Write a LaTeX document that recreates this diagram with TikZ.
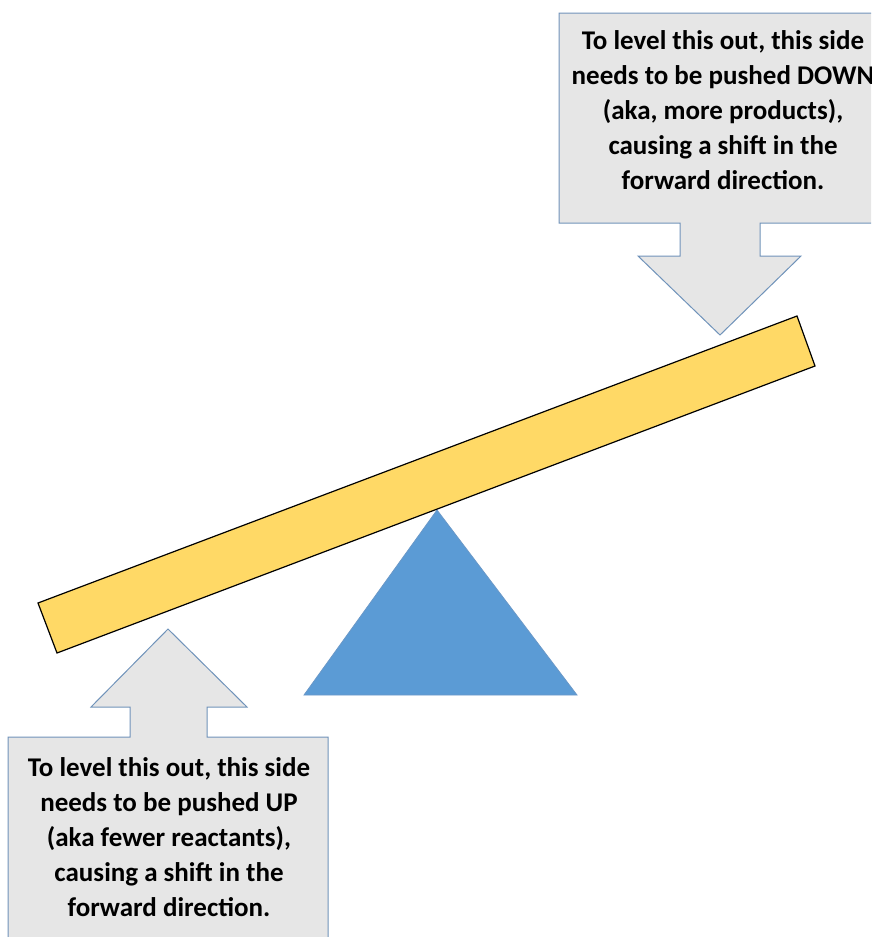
\documentclass[tikz,border=0pt]{standalone}
\usepackage{fontspec}
\setmainfont{Carlito}
\definecolor{boxfill}{HTML}{E6E6E6}
\definecolor{boxline}{HTML}{7093BA}
\definecolor{beamfill}{HTML}{FFD966}
\definecolor{fulcfill}{HTML}{5B9BD5}
\definecolor{fulcline}{HTML}{6A98C8}
\tikzset{
  callout/.style={fill=boxfill,draw=boxline,line width=1pt,line join=miter},
  calltext/.style={inner sep=0pt,align=center,font=\bfseries\fontsize{27}{35}\selectfont},
  beam/.style={fill=beamfill,draw=black,line width=1.2pt,line join=miter},
  fulcrum/.style={fill=fulcfill,draw=fulcline,line width=0.8pt}
}
\begin{document}
\begin{tikzpicture}[x=1pt,y=-1pt]
\useasboundingbox (0,0) rectangle (871,937);
\clip (0,0) rectangle (871,937);
% top callout
\draw[callout] (559,13) -- (895,13) -- (895,223) -- (760,223) -- (760,256) -- (801,256) -- (720,335) -- (638,256) -- (680,256) -- (680,223) -- (559,223) -- cycle;
\node[calltext] (toptext) at (723,110) {To level this out, this side\\needs to be pushed DOWN\\(aka, more products),\\causing a shift in the\\forward direction.};
% bottom callout
\draw[callout] (8,737) -- (130,737) -- (130,707) -- (91,707) -- (168,629) -- (247,707) -- (207,707) -- (207,737) -- (328,737) -- (328,950) -- (8,950) -- cycle;
\node[calltext] (bottext) at (169,837) {To level this out, this side\\needs to be pushed UP\\(aka fewer reactants),\\causing a shift in the\\forward direction.};
% fulcrum
\draw[fulcrum] (437,510) -- (577,695) -- (304,695) -- cycle;
% beam
\draw[beam] (38,603) -- (797,316) -- (815,366) -- (57,653) -- cycle;
\end{tikzpicture}
\end{document}
